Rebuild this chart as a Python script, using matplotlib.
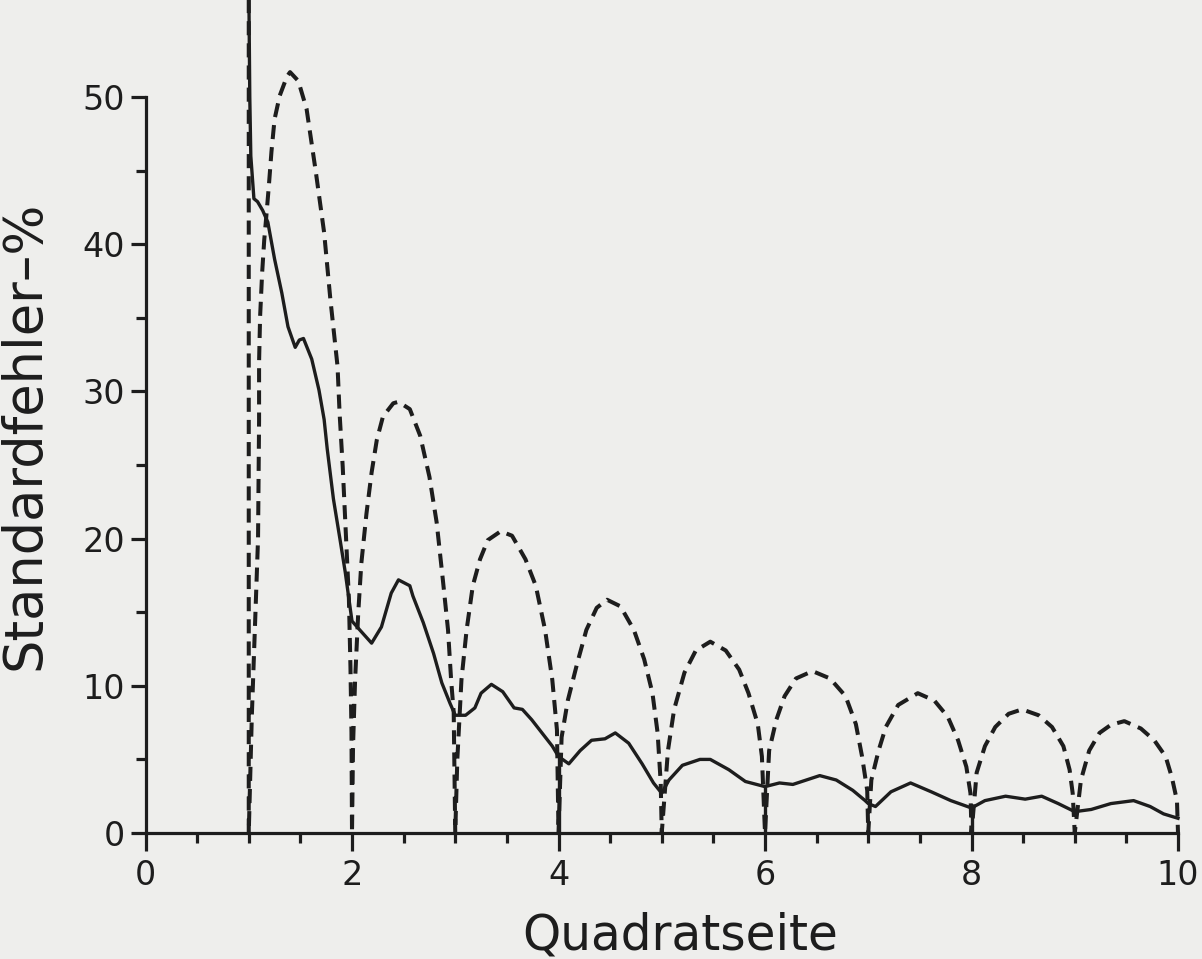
import numpy as np
import matplotlib.pyplot as plt
from matplotlib.ticker import MultipleLocator, FixedLocator

# gestrichelte Kurve (Boegen zwischen den ganzen Zahlen), inkl. Senkrechte bei x=1
dash_x = [1.0, 1.0,
          1.03, 1.06, 1.09, 1.10, 1.10, 1.11, 1.13, 1.15, 1.17, 1.195, 1.22, 1.25, 1.30, 1.37, 1.40,
          1.48, 1.56, 1.65, 1.73, 1.79, 1.86, 1.88, 1.91, 1.94, 1.97, 1.985, 1.995, 2.0,
          2.01, 2.03, 2.06, 2.09, 2.14, 2.19, 2.24, 2.30, 2.40, 2.45, 2.56, 2.66, 2.75, 2.82,
          2.88, 2.93, 2.96, 2.985, 3.0,
          3.02, 3.06, 3.11, 3.17, 3.24, 3.315, 3.44, 3.55, 3.68, 3.78, 3.87, 3.94, 3.985, 4.0,
          4.03, 4.09, 4.18, 4.27, 4.37, 4.47, 4.60, 4.73, 4.83, 4.91, 4.96, 4.99, 5.0,
          5.06, 5.12, 5.22, 5.33, 5.47, 5.62, 5.75, 5.84, 5.93, 5.97, 6.0,
          6.04, 6.11, 6.19, 6.30, 6.46, 6.63, 6.78, 6.88, 6.94, 6.99, 7.0,
          7.03, 7.10, 7.17, 7.29, 7.48, 7.64, 7.77, 7.87, 7.95, 7.99, 8.0,
          8.05, 8.13, 8.23, 8.36, 8.49, 8.65, 8.78, 8.89, 8.95, 8.98, 9.0,
          9.06, 9.14, 9.24, 9.35, 9.48, 9.64, 9.77, 9.88, 9.94, 9.99, 10.0]
dash_y = [58.0, 0.0,
          8.0, 14.0, 20.0, 28.0, 32.0, 35.1, 38.1, 40.3, 41.9, 44.0, 46.3, 48.5, 50.1, 51.4, 51.7,
          51.1, 49.2, 44.9, 40.8, 36.3, 31.7, 28.5, 24.9, 20.4, 15.9, 11.3, 6.8, 0.0,
          5.9, 10.4, 14.9, 18.3, 21.7, 24.5, 26.7, 28.3, 29.2, 29.3, 28.8, 27.0, 24.2, 21.1,
          17.2, 13.8, 10.4, 8.2, 0.0,
          5.0, 10.4, 13.8, 16.8, 18.6, 19.9, 20.5, 20.2, 18.6, 16.8, 13.8, 10.4, 7.0, 0.0,
          6.5, 9.0, 11.5, 13.8, 15.3, 15.85, 15.4, 13.8, 11.8, 9.5, 6.8, 3.4, 0.0,
          5.6, 8.4, 10.9, 12.4, 13.0, 12.4, 11.1, 9.5, 7.4, 5.2, 0.0,
          5.6, 7.7, 9.3, 10.5, 11.0, 10.5, 9.3, 7.4, 5.2, 2.9, 0.0,
          3.6, 5.6, 7.2, 8.7, 9.5, 9.0, 7.9, 6.3, 4.5, 2.7, 0.0,
          4.1, 5.9, 7.2, 8.1, 8.4, 8.0, 7.2, 5.9, 4.3, 2.7, 0.0,
          3.6, 5.6, 6.8, 7.35, 7.6, 7.1, 6.3, 5.2, 3.8, 2.2, 0.0]

# durchgezogene Kurve
solid_x = [1.0, 1.01, 1.02, 1.05, 1.085, 1.135, 1.185, 1.25, 1.32, 1.38, 1.45, 1.49, 1.53,
           1.61, 1.68, 1.73, 1.76, 1.82, 1.885, 1.935, 1.98, 2.0, 2.075, 2.19, 2.285, 2.38,
           2.45, 2.56, 2.59, 2.69, 2.79, 2.87, 2.95, 3.0, 3.10, 3.19, 3.25, 3.35, 3.46, 3.57,
           3.65, 3.74, 3.84, 3.94, 4.0, 4.10, 4.21, 4.32, 4.45, 4.55, 4.68, 4.81, 4.92, 5.0,
           5.07, 5.20, 5.37, 5.47, 5.65, 5.81, 6.0, 6.14, 6.27, 6.40, 6.53, 6.69, 6.85, 6.97,
           7.0, 7.07, 7.22, 7.41, 7.61, 7.80, 8.0, 8.13, 8.33, 8.52, 8.68, 8.84, 9.0, 9.16,
           9.35, 9.57, 9.73, 9.86, 10.0]
solid_y = [58.0, 50.0, 46.0, 43.1, 42.9, 42.3, 41.5, 39.0, 36.7, 34.4, 33.0, 33.5, 33.6,
           32.2, 30.1, 28.1, 26.1, 22.7, 19.9, 17.7, 15.4, 14.4, 13.8, 12.9, 14.0, 16.3,
           17.2, 16.8, 16.1, 14.3, 12.2, 10.2, 8.8, 8.0, 8.0, 8.5, 9.5, 10.1, 9.6, 8.5,
           8.4, 7.7, 6.8, 5.9, 5.2, 4.7, 5.6, 6.3, 6.4, 6.8, 6.1, 4.7, 3.4, 2.7,
           3.6, 4.6, 5.0, 5.0, 4.3, 3.5, 3.15, 3.4, 3.3, 3.6, 3.9, 3.6, 2.9, 2.2,
           2.0, 1.8, 2.8, 3.4, 2.8, 2.2, 1.7, 2.2, 2.5, 2.3, 2.5, 2.0, 1.45, 1.6,
           2.0, 2.2, 1.8, 1.3, 1.0]

# senkrechte Striche der durchgezogenen Kurve
drop_x = [4, 6, 8]
drop_top = [5.2, 3.15, 1.7]

ink = '#1d1d1d'
paper = '#eeeeec'

fig = plt.figure(figsize=(12.02, 9.59), dpi=100)
fig.patch.set_facecolor(paper)
ax = fig.add_axes([145.5 / 1202, 126 / 959, 1032.5 / 1202, 833 / 959])
ax.set_facecolor(paper)
ax.set_xlim(0, 10)
ax.set_ylim(0, 56.6)

ax.plot(dash_x, dash_y, color=ink, lw=2.9, linestyle=(0, (3.5, 2.0)), clip_on=False)
ax.plot(solid_x, solid_y, color=ink, lw=2.4, clip_on=False)
ax.vlines(drop_x, 0, drop_top, color=ink, lw=2.4)

for s in ['top', 'right']:
    ax.spines[s].set_visible(False)
ax.spines['left'].set_bounds(0, 50)
ax.spines['bottom'].set_bounds(0, 10)
for s in ['left', 'bottom']:
    ax.spines[s].set_linewidth(2.3)
    ax.spines[s].set_color(ink)

ax.xaxis.set_major_locator(MultipleLocator(2))
ax.xaxis.set_minor_locator(MultipleLocator(0.5))
ax.yaxis.set_major_locator(MultipleLocator(10))
ax.yaxis.set_minor_locator(FixedLocator([5, 15, 25, 35, 45]))

ax.tick_params(axis='x', which='major', length=13, width=2.3, color=ink,
               labelsize=24, labelcolor=ink, pad=6)
ax.tick_params(axis='x', which='minor', length=7, width=2.3, color=ink)
ax.tick_params(axis='y', which='major', length=11, width=2.3, color=ink,
               labelsize=24, labelcolor=ink, pad=4)
ax.tick_params(axis='y', which='minor', length=7, width=2.3, color=ink)

ax.set_xlabel('Quadratseite', fontsize=35, color=ink, va='baseline')
ax.xaxis.set_label_coords(0.5177, -0.14)
ax.set_ylabel('Standardfehler–%', fontsize=38, color=ink)
ax.yaxis.set_label_coords(-0.092, 0.478)

fig.savefig('out.png', dpi=100, facecolor=paper)
